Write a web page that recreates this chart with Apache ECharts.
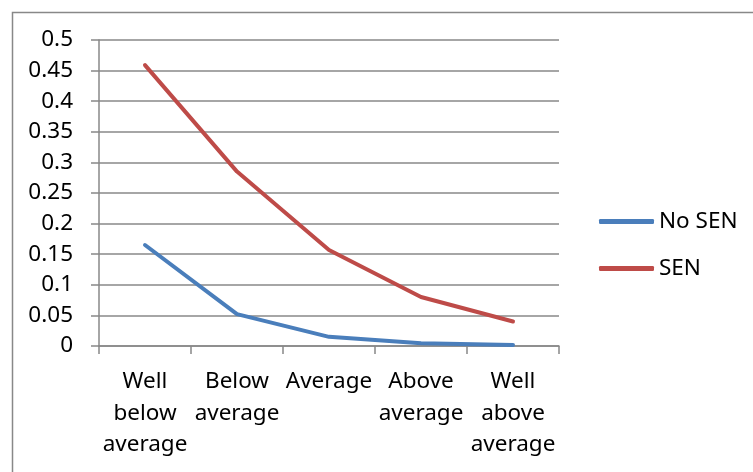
<!DOCTYPE html>
<html>
<head>
<meta charset="utf-8">
<script src="https://cdn.jsdelivr.net/npm/echarts@6/dist/echarts.min.js"></script>
<style>
html,body{margin:0;padding:0;background:#fff;}
#c{width:753px;height:472px;}
</style>
</head>
<body>
<div id="c"></div>
<script>
const categories = ['Well\nbelow\naverage', 'Below\naverage', 'Average', 'Above\naverage', 'Well\nabove\naverage'];
const noSEN = [0.165, 0.052, 0.015, 0.0045, 0.0015];
const SEN = [0.459, 0.285, 0.157, 0.080, 0.040];
const yMin = 0, yMax = 0.5, yStep = 0.05;

const chart = echarts.init(document.getElementById('c'));
const font = 'Noto Sans';
const fs = 22.5;
chart.setOption({
  animation: false,
  textStyle: {fontFamily: font},
  graphic: [{
    type: 'rect', left: 10, top: 10,
    shape: {width: 760, height: 480},
    style: {fill: 'none', stroke: '#888888', lineWidth: 1.5},
    silent: true
  }],
  grid: {left: 99, right: 194, top: 40, bottom: 126, containLabel: false},
  legend: {
    orient: 'vertical', left: 594, top: 205, itemGap: 24,
    itemWidth: 55, itemHeight: 5, icon: 'roundRect',
    textStyle: {fontFamily: font, fontSize: fs, color: '#000', padding: [0,0,0,0]},
    data: ['No SEN', 'SEN']
  },
  xAxis: {
    type: 'category', data: categories, boundaryGap: true,
    axisLine: {lineStyle: {color: '#888888', width: 1.5}},
    axisTick: {show: true, length: 8, alignWithLabel: false, lineStyle: {color: '#888888', width: 1.5}},
    axisLabel: {color: '#000', fontSize: fs, lineHeight: 31.5, margin: 20, interval: 0, fontFamily: font}
  },
  yAxis: {
    type: 'value', min: yMin, max: yMax, interval: yStep,
    axisLine: {show: true, lineStyle: {color: '#888888', width: 1.5}},
    axisTick: {show: true, length: 8, lineStyle: {color: '#888888', width: 1.5}},
    splitLine: {show: true, lineStyle: {color: '#888888', width: 1.5}},
    axisLabel: {color: '#000', fontSize: fs, margin: 26, fontFamily: font}
  },
  series: [
    {name: 'No SEN', type: 'line', data: noSEN, symbol: 'none',
     lineStyle: {color: '#4A7EBB', width: 4, cap: 'round', join: 'round'}, itemStyle: {color: '#4A7EBB'}},
    {name: 'SEN', type: 'line', data: SEN, symbol: 'none',
     lineStyle: {color: '#BE4B48', width: 4, cap: 'round', join: 'round'}, itemStyle: {color: '#BE4B48'}}
  ]
});
</script>
</body>
</html>
